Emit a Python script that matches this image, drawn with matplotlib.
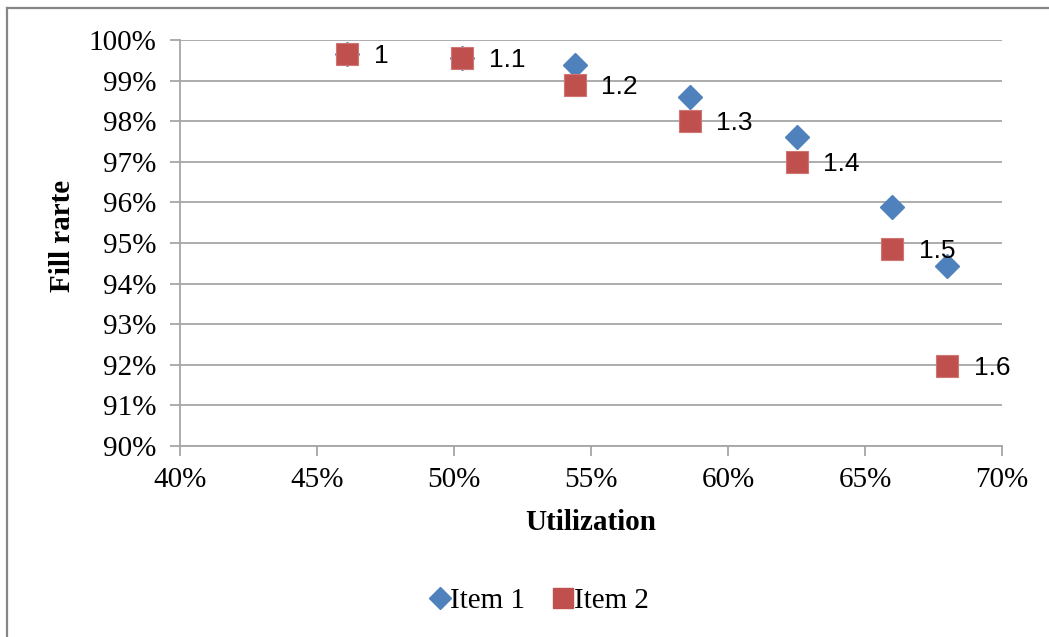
import matplotlib
matplotlib.use("Agg")
import matplotlib.pyplot as plt
from matplotlib.lines import Line2D
from matplotlib.ticker import MultipleLocator, FuncFormatter

# Data (fractions)
utilization = [0.461, 0.503, 0.544, 0.586, 0.625, 0.660, 0.680]
item1_fill = [0.9965, 0.9955, 0.9938, 0.9859, 0.9760, 0.9589, 0.9443]
item2_fill = [0.9965, 0.9955, 0.9890, 0.9800, 0.9700, 0.9485, 0.9198]
point_labels = ["1", "1.1", "1.2", "1.3", "1.4", "1.5", "1.6"]

blue = "#4F81BD"
red = "#C0504D"
serif = ["Liberation Serif", "DejaVu Serif"]

fig = plt.figure(figsize=(10.49, 6.37), dpi=100)
ax = fig.add_axes([180 / 1049, 1 - 446 / 637, (1002 - 180) / 1049, (446 - 40) / 637])

ax.plot(utilization, item1_fill, linestyle="none", marker="D", markersize=12.5,
        color=blue, markeredgecolor=blue, zorder=3)
ax.plot(utilization, item2_fill, linestyle="none", marker="s", markersize=16.5,
        color=red, markeredgecolor="#D07573", markeredgewidth=0.8, zorder=4)

for x, y, t in zip(utilization, item2_fill, point_labels):
    ax.annotate(t, (x, y), xytext=(19, -1.5), textcoords="offset points",
                ha="left", va="center", fontsize=19, family=["Liberation Sans", "DejaVu Sans"],
                color="black", zorder=5)

ax.set_xlim(0.40, 0.70)
ax.set_ylim(0.90, 1.00)
ax.xaxis.set_major_locator(MultipleLocator(0.05))
ax.yaxis.set_major_locator(MultipleLocator(0.01))
ax.xaxis.set_major_formatter(FuncFormatter(lambda v, p: f"{round(v * 100)}%"))
ax.yaxis.set_major_formatter(FuncFormatter(lambda v, p: f"{round(v * 100)}%"))

ax.grid(axis="y", color="#A6A6A6", linewidth=1.3)
ax.set_axisbelow(True)
for s in ["top", "right"]:
    ax.spines[s].set_visible(False)
for s in ["left", "bottom"]:
    ax.spines[s].set_color("#A6A6A6")
    ax.spines[s].set_linewidth(1.3)
ax.tick_params(axis="both", direction="out", length=7, width=1.3, color="#A6A6A6",
               labelsize=21, labelcolor="black")
ax.tick_params(axis="y", pad=10)
ax.tick_params(axis="x", pad=8)
for lab in ax.get_xticklabels() + ax.get_yticklabels():
    lab.set_family(serif)

fig.text(591 / 1049, 1 - 523 / 637, "Utilization", ha="center", va="center",
         fontsize=21, fontweight="bold", family=serif)
fig.text(62 / 1049, 1 - 236 / 637, "Fill rarte", ha="center", va="center",
         rotation=90, fontsize=21, fontweight="bold", family=serif)

handles = [
    Line2D([], [], linestyle="none", marker="D", markersize=11, color=blue),
    Line2D([], [], linestyle="none", marker="s", markersize=15, color=red),
]
fig.legend(handles, ["Item 1", "Item 2"], loc="center", bbox_to_anchor=(540 / 1049, 1 - 601 / 637),
           ncol=2, frameon=False, prop={"family": serif, "size": 21},
           handlelength=0.6, handletextpad=0.05, columnspacing=1.0)

# outer chart border (top and left visible)
fig.add_artist(Line2D([7 / 1049, 7 / 1049], [0, 1 - 8 / 637], transform=fig.transFigure,
                      color="#868686", linewidth=1.6))
fig.add_artist(Line2D([7 / 1049, 1], [1 - 8 / 637, 1 - 8 / 637], transform=fig.transFigure,
                      color="#868686", linewidth=1.6))

fig.savefig("out.png", dpi=100)
